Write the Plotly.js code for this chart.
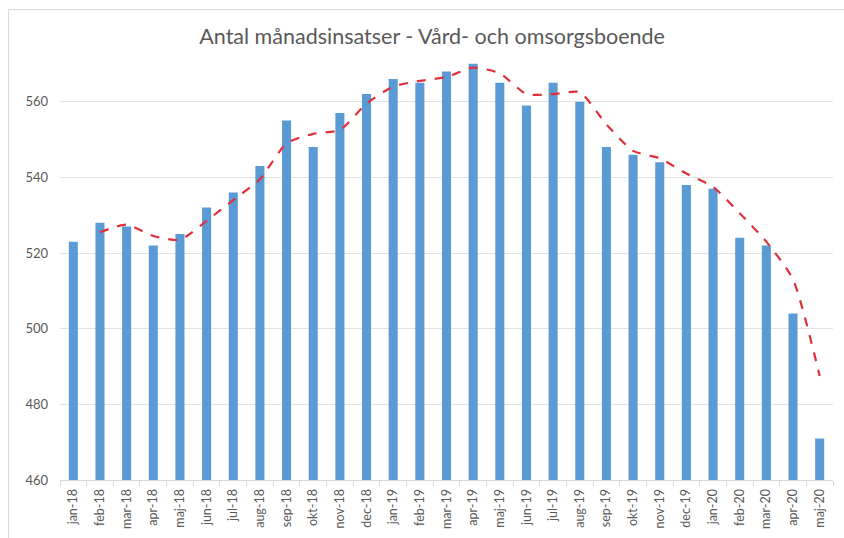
<!DOCTYPE html>
<html>
<head>
<meta charset="utf-8">
<script src="https://cdn.plot.ly/plotly-3.0.1.min.js"></script>
<style>
html,body{margin:0;padding:0;background:#fff;}
#wrap{position:relative;width:844px;height:538px;}
#frame{position:absolute;left:8px;top:9px;width:900px;height:600px;border-top:1px solid #d9d9d9;border-left:1px solid #d9d9d9;pointer-events:none;}
#chart{position:absolute;left:0;top:0;width:844px;height:538px;}
</style>
</head>
<body>
<div id="wrap">
<div id="chart"></div>
<div id="frame"></div>
</div>
<script>
const months = ["jan-18","feb-18","mar-18","apr-18","maj-18","jun-18","jul-18","aug-18","sep-18","okt-18","nov-18","dec-18",
"jan-19","feb-19","mar-19","apr-19","maj-19","jun-19","jul-19","aug-19","sep-19","okt-19","nov-19","dec-19",
"jan-20","feb-20","mar-20","apr-20","maj-20"];
const insatser = [523,528,527,522,525,532,536,543,555,548,557,562,
566,565,568,570,565,559,565,560,548,546,544,538,
537,524,522,504,471];
const trendMonths = months.slice(1);
const trend = [525.5,527.5,524.5,523.5,528.5,534,539.5,549,551.5,552.5,559.5,
564,565.5,566.5,569,567.5,562,562,562.5,554,547,545,541,
537.5,530.5,523,513,487.5];
const yTicks = [460,480,500,520,540,560];

const data = [
  {type:'bar', x:months, y:insatser, marker:{color:'#5b9bd5'}, hoverinfo:'x+y'},
  {type:'scatter', mode:'lines', x:trendMonths, y:trend,
   line:{color:'#e0303a', width:2.2, dash:'dash', shape:'spline', smoothing:0.6}}
];
const layout = {
  width:844, height:538,
  margin:{l:60, r:11, t:54, b:58},
  paper_bgcolor:'#fff', plot_bgcolor:'#fff',
  showlegend:false,
  bargap:0.66,
  title:{text:'Antal månadsinsatser - Vård- och omsorgsboende', x:0.512, xanchor:'center', y:0.932, yanchor:'middle',
         font:{family:'Lato, sans-serif', size:21.5, color:'#595959'}},
  xaxis:{type:'category', tickangle:-90, tickson:'boundaries', ticks:'outside', ticklen:5, tickcolor:'#d9d9d9',
         ticklabelstandoff:3,
         showline:true, linecolor:'#d9d9d9', linewidth:1, showgrid:false,
         tickfont:{family:'Lato, sans-serif', size:12.5, color:'#595959'}},
  yaxis:{range:[460,572.6], tickvals:yTicks, ticktext:yTicks.map(String), showgrid:true, gridcolor:'#e3e3e3', gridwidth:1,
         zeroline:false, showline:false, ticks:'', ticklen:0, automargin:false, ticklabelstandoff:11,
         tickfont:{family:'Lato, sans-serif', size:13, color:'#595959'}}
};
Plotly.newPlot('chart', data, layout, {displayModeBar:false, staticPlot:true});
</script>
</body>
</html>
